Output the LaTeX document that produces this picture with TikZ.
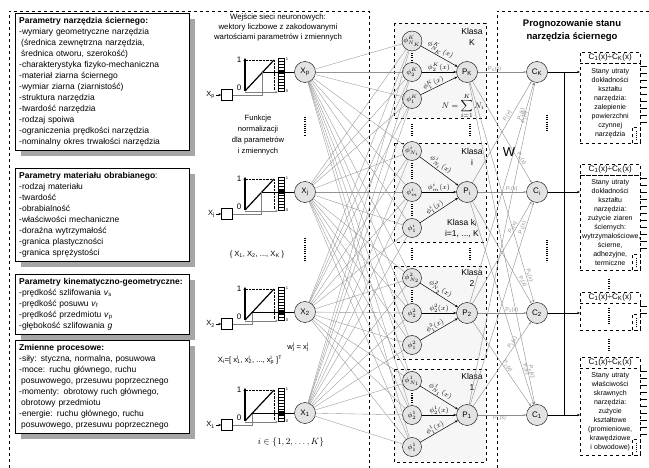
\documentclass[tikz,border=0pt]{standalone}
\usepackage{fontspec}
\setmainfont{Liberation Sans}
\usepackage{amsmath}
\usepackage{tikz}
\usetikzlibrary{arrows.meta,positioning,shadows}
\newcommand{\supsub}[2]{\rlap{\textsuperscript{#1}}\textsubscript{#2}}

\begin{document}
\begin{tikzpicture}[x=1pt, y=-1pt,
  param/.style={draw, fill=white, align=left, text width=166pt, inner sep=4pt, anchor=north west, font=\fontsize{8.5}{11}\selectfont, drop shadow={shadow xshift=6pt, shadow yshift=-6pt, fill=black!35, opacity=1}},
  neuron/.style={circle, draw, fill=gray!22, minimum size=21pt, inner sep=0pt, font=\fontsize{8}{8}\selectfont},
  phin/.style={circle, draw, fill=gray!22, minimum size=19pt, inner sep=0pt, font=\fontsize{7.5}{8}\selectfont},
  klasa/.style={draw, dashed, fill=gray!7},
  klab/.style={align=center, font=\fontsize{8.5}{11}\selectfont},
  lbl/.style={inner sep=0.5pt, font=\fontsize{7}{8}\selectfont},
  plbl/.style={inner sep=0.5pt, font=\fontsize{5.5}{6}\selectfont},
  fan/.style={gray!85, line width=0.35pt},
  wline/.style={gray!90, line width=0.4pt, -{Stealth[length=3pt,width=2pt]}},
  arr/.style={-{Stealth[length=3pt,width=2.4pt]}, line width=0.5pt},
  vdots/.style={line width=1.5pt, dash pattern=on 1.1pt off 1.1pt},
  inbox/.style={draw, minimum size=11pt, inner sep=0pt},
  outbody/.style={draw, dashed, text width=56pt, inner sep=2pt, align=center, font=\fontsize{7}{9}\selectfont},
  outhead/.style={draw, dashed, minimum width=60pt, minimum height=11pt, inner sep=0pt, font=\fontsize{8}{9}\selectfont},
]
\useasboundingbox (0,0) rectangle (649,468);

% obszary
\draw[dashed] (9,468) |- (369,11) -- (369,468);
\draw[dashed] (497,468) |- (649,11);

% parametry wejsciowe
\node[param] (b1) at (15,13) {\textbf{Parametry narzędzia ściernego:}\\
-wymiary geometryczne narzędzia\\
\hspace*{2pt}(średnica zewnętrzna narzędzia,\\
\hspace*{2pt}średnica otworu, szerokość)\\
-charakterystyka fizyko-mechaniczna\\
-materiał ziarna ściernego\\
-wymiar ziarna (ziarnistość)\\
-struktura narzędzia\\
-twardość narzędzia\\
-rodzaj spoiwa\\
-ograniczenia prędkości narzędzia\\
-nominalny okres trwałości narzędzia};
\node[param] (b2) at (15,168) {\textbf{Parametry materiału obrabianego}:\\
-rodzaj materiału\\
-twardość\\
-obrabialność\\
-właściwości mechaniczne\\
-doraźna wytrzymałość\\
-granica plastyczności\\
-granica sprężystości};
\node[param] (b3) at (15,274) {\textbf{Parametry kinematyczno-geometryczne:}\\
-prędkość szlifowania \textit{v}\textsubscript{s}\\
-prędkość posuwu \textit{v}\textsubscript{f}\\
-prędkość przedmiotu \textit{v}\textsubscript{p}\\
-głębokość szlifowania \textit{g}};
\node[param] (b4) at (15,340) {\textbf{Zmienne procesowe:}\\
-siły: styczna, normalna, posuwowa\\
-moce: ruchu głównego, ruchu\\
\hspace*{2pt}posuwowego, przesuwu poprzecznego\\
-momenty: obrotowy ruch głównego,\\
\hspace*{2pt}obrotowy przedmiotu\\
-energie: ruchu głównego, ruchu\\
\hspace*{2pt}posuwowego, przesuwu poprzecznego};

% wejscie sieci
\node[align=center, font=\fontsize{7.8}{10}\selectfont] (tytul) at (278,27) {Wejście sieci neuronowych:\\ wektory liczbowe z zakodowanymi\\ wartościami parametrów i zmiennych};
\node[align=center, font=\fontsize{7.6}{11}\selectfont] (funk) at (258,135) {Funkcje\\ normalizacji\\ dla parametrów\\ i zmiennych};
\node[font=\fontsize{7.6}{9}\selectfont] (zbior) at (257,255) {\{ X\textsubscript{1}, X\textsubscript{2}, ..., X\textsubscript{K} \}};
\node[font=\fontsize{7.6}{9}\selectfont] (wekt) at (250,360) {X\textsubscript{i}=[ x\supsub{i}{1}, x\supsub{i}{2}, ..., x\supsub{i}{p} ]\textsuperscript{T}};
\node[font=\fontsize{7.6}{9}\selectfont] (wagi) at (298,347) {w\supsub{i}{j} = x\supsub{i}{j}};
\node[font=\small] (zakres) at (291,442) {$i\in\left\{1,2,\ldots,K\right\}$};

\node[neuron] (xp) at (305,72) {X\textsubscript{p}};
\node[neuron] (xj) at (305,192) {X\textsubscript{j}};
\node[neuron] (x2) at (305,312) {X\textsubscript{2}};
\node[neuron] (x1) at (305,413) {X\textsubscript{1}};
\draw[vdots] (305,117) -- (305,135);
\draw[vdots] (305,238) -- (305,262);

\foreach \n/\yo/\lv in {p/91/72, j/210/192, 2/320/312, 1/421/413} {
  \pgfmathsetmacro{\gx}{245+(\yo-\lv)*29/31}
  \draw[line width=1.2pt, -{Stealth[length=3pt,width=3pt]}] (245,\yo) -- (245,\yo-33);
  \node[font=\fontsize{8}{8}\selectfont] at (239,\yo-31) {1};
  \node[font=\fontsize{8}{8}\selectfont] at (239,\yo-3) {0};
  \draw[densely dotted] (246,\yo-31) -- (274,\yo-31) -- (274,\yo-1);
  \draw[line width=1.2pt] (245,\yo) -- (274,\yo-31);
  \draw[gray, line width=0.6pt, -{Stealth[length=3pt,width=2.4pt]}] (245,\yo+1) -- (278,\yo+1);
  \foreach \k in {0,...,10}
    \draw[line width=0.3pt] (278,\yo-33+3*\k) rectangle (284,\yo-30+3*\k);
  \fill (278,\lv-2) rectangle (284,\lv+2);
  \node[font=\fontsize{4}{4}\selectfont] at (287,\yo-32) {1};
  \node[font=\fontsize{4}{4}\selectfont] at (287,\yo) {0};
  \node[inbox] (in\n) at (227,\yo+4) {};
  \node[anchor=east, inner sep=1pt, font=\fontsize{7.5}{8}\selectfont] (lab\n) at (216,\yo+4) {X\textsubscript{\n}};
  \draw[arr] (lab\n) -- (in\n);
  \draw[gray, line width=0.8pt] (in\n.east) -| (\gx,\lv);
  \draw[line width=0.8pt] (\gx,\lv) -- (x\n);
}

% klasy
\draw[klasa] (394,23) rectangle (486,118);
\draw[klasa] (394,143) rectangle (486,242);
\draw[klasa] (394,266) rectangle (486,359);
\draw[klasa] (394,369) rectangle (486,462);

\node[phin] (fK3) at (412,41) {$\phi^{K}_{N_K}$};
\node[phin] (fK2) at (412,72) {$\phi^{K}_{2}$};
\node[phin] (fK1) at (412,99) {$\phi^{K}_{1}$};
\node[phin] (fi3) at (412,151) {$\phi^{i}_{N_i}$};
\node[phin] (fi2) at (412,192) {$\phi^{i}_{m}$};
\node[phin] (fi1) at (412,228) {$\phi^{i}_{1}$};
\node[phin] (f23) at (412,278) {$\phi^{2}_{N_2}$};
\node[phin] (f22) at (412,313) {$\phi^{2}_{2}$};
\node[phin] (f21) at (412,345) {$\phi^{2}_{1}$};
\node[phin] (f13) at (412,381) {$\phi^{1}_{N_1}$};
\node[phin] (f12) at (412,415) {$\phi^{1}_{2}$};
\node[phin] (f11) at (412,447) {$\phi^{1}_{1}$};

\node[neuron] (PK) at (467,72) {P\textsubscript{K}};
\node[neuron] (Pi) at (467,192) {P\textsubscript{i}};
\node[neuron] (P2) at (467,313) {P\textsubscript{2}};
\node[neuron] (P1) at (467,415) {P\textsubscript{1}};

\foreach \xn in {xp,xj,x2,x1}
  \foreach \fn in {fK3,fK2,fK1,fi3,fi2,fi1,f23,f22,f21,f13,f12,f11}
    \draw[fan] (\xn) -- (\fn);

\draw[arr] (fK3) -- node[lbl, sloped, above, pos=0.45] {$\phi^{K}_{N_K}(x)$} (PK);
\draw[arr] (fK2) -- node[lbl, above, pos=0.5] {$\phi^{K}_{2}(x)$} (PK);
\draw[arr] (fK1) -- node[lbl, sloped, above, pos=0.4] {$\phi^{K}_{1}(x)$} (PK);
\draw[arr] (fi3) -- node[lbl, sloped, above, pos=0.45] {$\phi^{i}_{N_i}(x)$} (Pi);
\draw[arr] (fi2) -- node[lbl, above, pos=0.5] {$\phi^{i}_{m}(x)$} (Pi);
\draw[arr] (fi1) -- node[lbl, sloped, above, pos=0.45] {$\phi^{i}_{1}(x)$} (Pi);
\draw[arr] (f23) -- node[lbl, sloped, above, pos=0.45] {$\phi^{2}_{N_2}(x)$} (P2);
\draw[arr] (f22) -- node[lbl, above, pos=0.5] {$\phi^{2}_{2}(x)$} (P2);
\draw[arr] (f21) -- node[lbl, sloped, above, pos=0.45] {$\phi^{2}_{1}(x)$} (P2);
\draw[arr] (f13) -- node[lbl, sloped, above, pos=0.45] {$\phi^{1}_{N_1}(x)$} (P1);
\draw[arr] (f12) -- node[lbl, above, pos=0.5] {$\phi^{1}_{2}(x)$} (P1);
\draw[arr] (f11) -- node[lbl, sloped, above, pos=0.45] {$\phi^{1}_{1}(x)$} (P1);

\draw[vdots] (412,53) -- (412,62);
\draw[vdots] (412,163) -- (412,180);
\draw[vdots] (412,204) -- (412,217);
\draw[vdots] (412,290) -- (412,302);
\draw[vdots] (412,393) -- (412,404);
\draw[vdots] (412,124) -- (412,137);
\draw[vdots] (470,124) -- (470,137);
\draw[vdots] (412,248) -- (412,261);
\draw[vdots] (470,248) -- (470,261);

\node[klab] (kK) at (472,37) {Klasa\\K};
\node[klab] (ki) at (472,157) {Klasa\\i};
\node[klab] (k2) at (472,278) {Klasa\\2};
\node[klab] (k1) at (472,382) {Klasa\\1};
\node[klab] (kk) at (462,228) {Klasa k\textsubscript{i}\\i=1, ..., K};
\node[font=\footnotesize] (suma) at (463,106) {$N=\displaystyle\sum_{i=1}^{K}N_i$};

% prognozowanie
\node[align=center, font=\fontsize{9.5}{13}\selectfont\bfseries] (progn) at (572,31) {Prognozowanie stanu\\ narzędzia ściernego};

\node[neuron] (CK) at (537,72) {C\textsubscript{K}};
\node[neuron] (Ci) at (537,192) {C\textsubscript{i}};
\node[neuron] (C2) at (537,313) {C\textsubscript{2}};
\node[neuron] (C1) at (537,415) {C\textsubscript{1}};

\draw[wline] (PK) -- node[plbl, above, pos=0.35] {P\textsubscript{K}(x)} (CK);
\draw[wline] (Pi) -- node[plbl, above, pos=0.7] {P\textsubscript{i}(x)} (Ci);
\draw[wline] (P2) -- node[plbl, above, pos=0.7] {P\textsubscript{2}(x)} (C2);
\draw[wline] (P1) -- node[plbl, below, pos=0.45] {P\textsubscript{1}(x)} (C1);
\foreach \a/\b/\t/\p in {PK/Ci/K/0.78, PK/C2/K/0.88, PK/C1/K/0.9, Pi/CK/i/0.64, Pi/C2/i/0.8, Pi/C1/i/0.83, P2/CK/2/0.85, P2/Ci/2/0.73, P2/C1/2/0.55, P1/CK/1/0.89, P1/Ci/1/0.87, P1/C2/1/0.73}
  \draw[wline] (\a) -- node[plbl, sloped, above, pos=\p] {P\textsubscript{\t}(x)} (\b);

\node[font=\fontsize{13}{13}\selectfont] (W) at (509,152) {W};
\draw[vdots] (547,115) -- (547,131);
\draw[vdots] (547,240) -- (547,262);

\node[outbody, minimum height=80pt, anchor=north west] (oK) at (580,63) {Stany utraty\\ dokładności\\ kształtu\\ narzędzia:\\ zalepienie\\ powierzchni\\ czynnej\\ narzędzia};
\node[outbody, minimum height=95pt, anchor=north west] (oi) at (580,175) {Stany utraty\\ dokładności\\ kształtu\\ narzędzia:\\ zużycie ziaren\\ ściernych:\\ wytrzymałościowe,\\ ścierne,\\ adhezyjne,\\ termiczne};
\node[outbody, minimum height=27pt, anchor=north west] (o2) at (580,303) {};
\node[outbody, minimum height=87pt, anchor=north west] (o1) at (580,368) {Stany utraty\\ właściwości\\ skrawnych\\ narzędzia:\\ zużycie\\ kształtowe\\ (promieniowe,\\ krawędziowe\\ i obwodowe)};
\node[outhead, above=0pt of oK] (hK) {C\textsubscript{1}(x)÷C\textsubscript{K}(x)};
\node[outhead, above=0pt of oi] (hi) {C\textsubscript{1}(x)÷C\textsubscript{K}(x)};
\node[outhead, above=0pt of o2] (h2) {C\textsubscript{1}(x)÷C\textsubscript{K}(x)};
\node[outhead, above=0pt of o1] (h1) {C\textsubscript{1}(x)÷C\textsubscript{K}(x)};

\coordinate (bus) at (564,0);
\draw[line width=0.5pt] (bus |- CK) -- (bus |- C1);
\draw[arr] (CK) -- (CK -| oK.west);
\draw[arr] (Ci) -- (Ci -| oi.west);
\draw[arr] (C2) -- (C2 -| o2.west);
\draw[arr] (C1) -- (C1 -| o1.west);

\foreach \o/\h in {oK/80, oi/95, o2/27, o1/87} {
  \pgfmathsetmacro{\hh}{\h-18}
  \foreach \t in {3,10,...,\hh}
    \draw[line width=0.4pt] ([yshift=-\t pt]\o.north east) -- ++(7,0);
  \draw[dashed] ([xshift=-8pt]\o.south east) rectangle ([yshift=16pt]\o.south east);
  \draw[line width=1.3pt, dash pattern=on 1pt off 1pt] ([xshift=-4pt,yshift=3pt]\o.south east) -- ++(0,-10);
}
\draw[vdots] (609,279) -- (609,290);
\draw[vdots] (609,308) -- (609,324);
\draw[vdots] (609,339) -- (609,351);
\end{tikzpicture}
\end{document}
